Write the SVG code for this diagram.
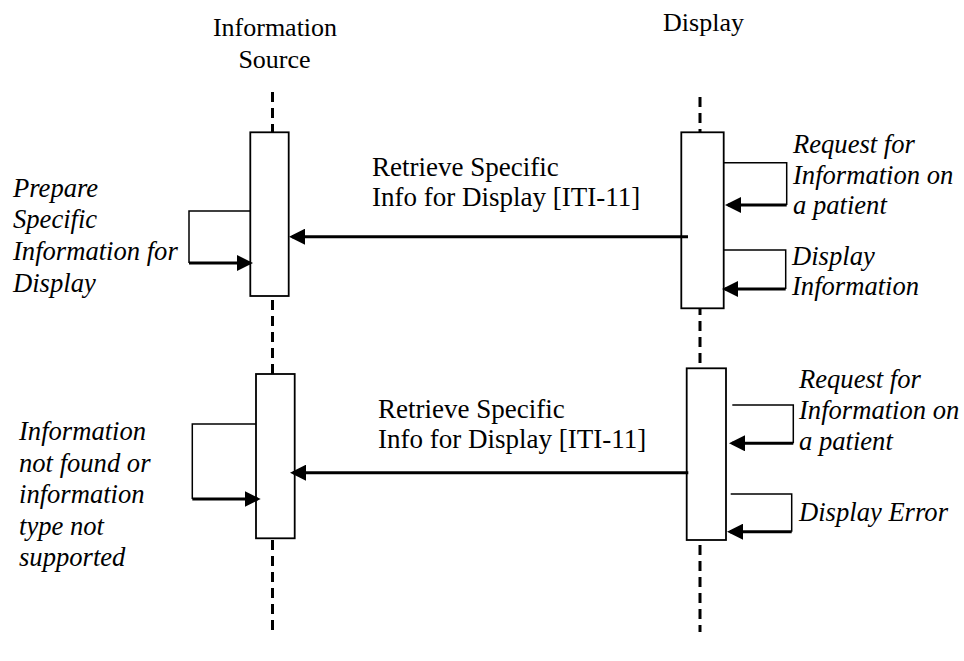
<svg xmlns="http://www.w3.org/2000/svg" width="964" height="661" viewBox="0 0 964 661">
  <style>
    text { font-size: 26px; fill: #000; }
    .it { font-style: italic; font-size: 26.6px; }
    .msg { font-size: 27px; }
    .life { stroke: #000; stroke-width: 3; stroke-dasharray: 10 6; fill: none; }
    .box { fill: #fff; stroke: #000; stroke-width: 1.8; }
    .thin { fill: none; stroke: #000; stroke-width: 1.5; }
    .thick { fill: none; stroke: #000; stroke-width: 3; }
  </style>
  <defs>
    <marker id="ah" markerUnits="userSpaceOnUse" markerWidth="16" markerHeight="16" refX="13" refY="8" orient="auto">
      <path d="M0,0 L16,8 L0,16 Z" fill="#000"/>
    </marker>
  </defs>
  <rect width="964" height="661" fill="#fff"/>

  <g font-family="'Liberation Serif', Tinos, 'Times New Roman', serif">
  <g id="lifeline-source">
    <text x="275" y="36" text-anchor="middle">Information</text>
    <text x="274.5" y="67.5" text-anchor="middle">Source</text>
    <path class="life" d="M272.5,92 V632"/>
  </g>
  <g id="lifeline-display">
    <text x="703.5" y="31" text-anchor="middle">Display</text>
    <path class="life" d="M700,97 V632"/>
  </g>

  <g id="act-source-1">
    <rect class="box" x="250.3" y="132.3" width="38.4" height="163.7"/>
  </g>
  <g id="act-display-1">
    <rect class="box" x="681.3" y="132.3" width="42.4" height="176"/>
  </g>
  <g id="act-source-2">
    <rect class="box" x="256" y="374" width="38.7" height="164.3"/>
  </g>
  <g id="act-display-2">
    <rect class="box" x="686.7" y="368.3" width="39.3" height="171.7"/>
  </g>

  <g id="connectors">
    <path class="thick" d="M688,236.7 H292" marker-end="url(#ah)"/>
    <path class="thick" d="M688.3,472.7 H293" marker-end="url(#ah)"/>
    <path class="thin" d="M250.3,211 H189 V263"/>
    <path class="thick" d="M189,263 H250" marker-end="url(#ah)"/>
    <path class="thin" d="M723.7,162.7 H786.7 V205"/>
    <path class="thick" d="M786.7,205 H728" marker-end="url(#ah)"/>
    <path class="thin" d="M723.7,250 H785.7 V289"/>
    <path class="thick" d="M785.7,289 H725" marker-end="url(#ah)"/>
    <path class="thin" d="M256,424 H192.3 V499"/>
    <path class="thick" d="M192.3,499 H257.7" marker-end="url(#ah)"/>
    <path class="thin" d="M732.3,405 H793.3 V443.3"/>
    <path class="thick" d="M793.3,443.3 H732" marker-end="url(#ah)"/>
    <path class="thin" d="M730.7,494 H791.7 V531.7"/>
    <path class="thick" d="M791.7,531.7 H730" marker-end="url(#ah)"/>
  </g>

  <g id="label-msg-1">
    <text class="msg" x="372" y="176">Retrieve Specific</text>
    <text class="msg" x="372" y="206">Info for Display [ITI-11]</text>
  </g>
  <g id="label-msg-2">
    <text class="msg" x="378" y="418">Retrieve Specific</text>
    <text class="msg" x="378" y="448">Info for Display [ITI-11]</text>
  </g>

  <g id="label-prepare">
    <text class="it" x="13" y="196.7">Prepare</text>
    <text class="it" x="13" y="228.4">Specific</text>
    <text class="it" x="13" y="260.1">Information for</text>
    <text class="it" x="13" y="291.8">Display</text>
  </g>
  <g id="label-request-1">
    <text class="it" x="793" y="153">Request for</text>
    <text class="it" x="793" y="183.5">Information on</text>
    <text class="it" x="793" y="214">a patient</text>
  </g>
  <g id="label-display-info">
    <text class="it" x="792" y="265">Display</text>
    <text class="it" x="792" y="295">Information</text>
  </g>
  <g id="label-not-found">
    <text class="it" x="19" y="440">Information</text>
    <text class="it" x="19" y="471.5">not found or</text>
    <text class="it" x="19" y="503">information</text>
    <text class="it" x="19" y="534.5">type not</text>
    <text class="it" x="19" y="566">supported</text>
  </g>
  <g id="label-request-2">
    <text class="it" x="799" y="388">Request for</text>
    <text class="it" x="799" y="419">Information on</text>
    <text class="it" x="799" y="450">a patient</text>
  </g>
  <g id="label-display-error">
    <text class="it" x="799" y="521">Display Error</text>
  </g>
  </g>
</svg>
